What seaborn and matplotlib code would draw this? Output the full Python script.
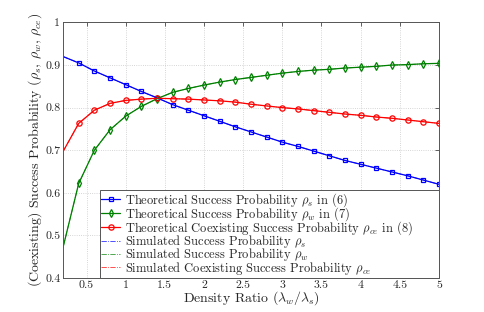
import numpy as np
import pandas as pd
import matplotlib
matplotlib.use("Agg")
import matplotlib.pyplot as plt
import seaborn as sns

# density ratio lambda_w / lambda_s
ratio = [0.2, 0.4, 0.6, 0.8, 1.0, 1.2, 1.4, 1.6, 1.8, 2.0, 2.2, 2.4, 2.6,
         2.8, 3.0, 3.2, 3.4, 3.6, 3.8, 4.0, 4.2, 4.4, 4.6, 4.8, 5.0]

rho_s = [0.920, 0.905, 0.886, 0.870, 0.854, 0.838, 0.823, 0.807, 0.794,
         0.781, 0.768, 0.755, 0.743, 0.731, 0.719, 0.709, 0.698, 0.687,
         0.676, 0.667, 0.658, 0.649, 0.640, 0.630, 0.620]
rho_w = [0.472, 0.622, 0.700, 0.748, 0.780, 0.803, 0.821, 0.836, 0.845,
         0.853, 0.860, 0.866, 0.871, 0.876, 0.881, 0.885, 0.888, 0.890,
         0.893, 0.895, 0.897, 0.900, 0.901, 0.903, 0.904]
rho_ce = [0.697, 0.763, 0.794, 0.810, 0.817, 0.820, 0.822, 0.821, 0.820,
          0.818, 0.816, 0.813, 0.808, 0.804, 0.800, 0.797, 0.793, 0.789,
          0.785, 0.782, 0.778, 0.775, 0.771, 0.767, 0.763]

xticks = [0.5, 1, 1.5, 2, 2.5, 3, 3.5, 4, 4.5, 5]
xticklabels = ["0.5", "1", "1.5", "2", "2.5", "3", "3.5", "4", "4.5", "5"]
yticks = [0.4, 0.5, 0.6, 0.7, 0.8, 0.9, 1.0]
yticklabels = ["0.4", "0.5", "0.6", "0.7", "0.8", "0.9", "1"]

df = pd.DataFrame({"ratio": ratio, "rho_s": rho_s, "rho_w": rho_w, "rho_ce": rho_ce})

sns.set_style("white")
plt.rcParams["font.family"] = ["cmr10", "DejaVu Serif"]
plt.rcParams["mathtext.fontset"] = "cm"
plt.rcParams["axes.formatter.use_mathtext"] = True
plt.rcParams["xtick.direction"] = "in"
plt.rcParams["ytick.direction"] = "in"

fig = plt.figure(figsize=(4.85, 3.12), dpi=100)
ax = fig.add_axes([0.130, 0.109, 0.775, 0.819])

theo = [
    ("rho_s", "blue", "s", 3.2, r"Theoretical Success Probability $\rho_s$ in (6)"),
    ("rho_w", "green", "d", 4.0, r"Theoretical Success Probability $\rho_w$ in (7)"),
    ("rho_ce", "red", "o", 3.8, r"Theoretical Coexisting Success Probability $\rho_{ce}$ in (8)"),
]
for col, c, m, ms, lab in theo:
    sns.lineplot(data=df, x="ratio", y=col, ax=ax, color=c, marker=m,
                 markevery=slice(1, None), markersize=ms, markerfacecolor="none",
                 markeredgecolor=c, markeredgewidth=0.9, linewidth=0.9, label=lab)

sim = [
    ("rho_s", "blue", r"Simulated Success Probability $\rho_s$"),
    ("rho_w", "green", r"Simulated Success Probability $\rho_w$"),
    ("rho_ce", "red", r"Simulated Coexisting Success Probability $\rho_{ce}$"),
]
for col, c, lab in sim:
    sns.lineplot(data=df, x="ratio", y=col, ax=ax, color=c, linestyle="-.",
                 linewidth=0.6, alpha=0.8, label=lab)

ax.set_xlim(0.2, 5)
ax.set_ylim(0.4, 1.0)
ax.set_xticks(xticks)
ax.set_xticklabels(xticklabels)
ax.set_yticks(yticks)
ax.set_yticklabels(yticklabels)
ax.tick_params(labelsize=8.5, length=3, width=0.5, top=True, right=True, pad=2)
ax.grid(True, linestyle=":", color="#c8c8c8", linewidth=0.6)
for s in ax.spines.values():
    s.set_color("#555555")
    s.set_linewidth(0.7)

ax.set_xlabel(r"Density Ratio ($\lambda_w/\lambda_s$)", fontsize=10, labelpad=-1)
ax.set_ylabel(r"(Coexisting) Success Probability ($\rho_s$, $\rho_w$, $\rho_{ce}$)",
              fontsize=10, labelpad=1)

leg = ax.legend(loc="lower left", bbox_to_anchor=(0.098, 0.0, 0.902, 0.3),
                mode="expand", fontsize=9, frameon=True, fancybox=False,
                framealpha=1, borderaxespad=0, handlelength=1.5, handletextpad=0.4,
                labelspacing=-0.3, borderpad=0.1)
leg.get_frame().set_edgecolor("#555555")
leg.get_frame().set_linewidth(0.7)

fig.savefig("out.png", dpi=100)
